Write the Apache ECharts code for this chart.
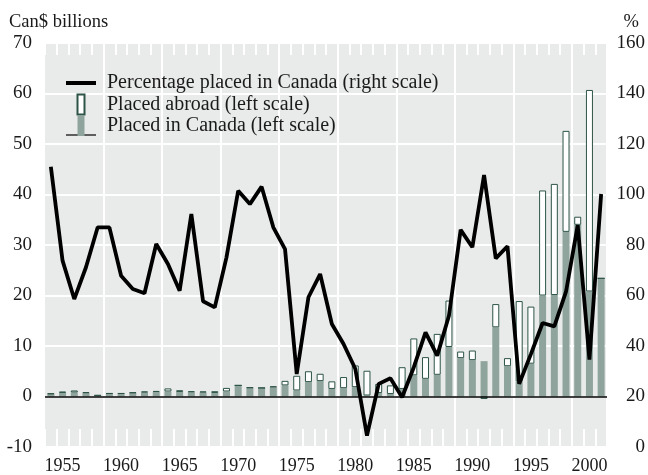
<!DOCTYPE html>
<html lang="en">
<head>
    <meta charset="UTF-8">
    <title>Placements</title>
    <script src="https://cdn.jsdelivr.net/npm/echarts@6/dist/echarts.min.js"></script>
    <style>
        * { margin: 0; padding: 0 }
        html, body { width: 100%; height: 100%; background: #fff; }
        #main { width: 648px; height: 475px; }
    </style>
</head>
<body>
<div id="main"></div>
<script type="text/javascript">
    // years along the bottom
    var years = [1954, 1955, 1956, 1957, 1958, 1959, 1960, 1961, 1962, 1963,
        1964, 1965, 1966, 1967, 1968, 1969, 1970, 1971, 1972, 1973,
        1974, 1975, 1976, 1977, 1978, 1979, 1980, 1981, 1982, 1983,
        1984, 1985, 1986, 1987, 1988, 1989, 1990, 1991, 1992, 1993,
        1994, 1995, 1996, 1997, 1998, 1999, 2000, 2001];

    // Can$ billions placed in Canada (left scale)
    var placedCanada = [0.5, 0.7, 0.8, 0.7, 0.2, 0.55, 0.55, 0.7, 0.8, 0.9,
        1.0, 0.9, 0.85, 0.8, 0.7, 1.0, 2.2, 1.7, 1.7, 1.85,
        2.2, 1.2, 2.85, 3.05, 1.5, 1.65, 1.85, 0.2, 0.7, 0.5,
        1.5, 4.2, 3.5, 4.3, 9.8, 7.6, 7.2, 7.0, 13.7, 6.0,
        3.0, 6.5, 20.0, 20.1, 32.6, 34.0, 20.8, 23.4];

    // Can$ billions placed abroad (left scale)
    var placedAbroad = [0.1, 0.3, 0.4, 0.15, 0.05, 0.1, 0.1, 0.1, 0.2, 0.2,
        0.6, 0.35, 0.2, 0.2, 0.35, 0.7, 0, 0.1, 0, 0.15,
        0.9, 2.9, 2.15, 1.45, 1.5, 2.2, 4.3, 4.9, 1.8, 1.7,
        4.3, 7.3, 4.3, 8.1, 9.2, 1.3, 1.9, -0.5, 4.6, 1.6,
        15.9, 11.3, 20.8, 22.0, 20.0, 1.6, 39.9, 0];

    // percentage placed in Canada (right scale)
    var pctCanada = [111, 73.8, 58.6, 71.2, 87.0, 87.0, 67.8, 62.6, 60.9, 80.4,
        72.5, 61.9, 92.3, 57.7, 55.3, 75.1, 101.5, 96.2, 103.1, 87.0,
        78.4, 28.9, 59.3, 68.5, 48.7, 40.8, 31.0, 4.5, 25.0, 27.2,
        19.7, 31.6, 45.4, 36.2, 52.0, 86.0, 79.1, 107.7, 74.7, 79.5,
        25.0, 36.8, 49.1, 47.8, 61.5, 87.9, 34.6, 100.2];

    var FONT = 'Liberation Serif';
    var TXT = '#1a1a1a';

    var myChart = echarts.init(document.getElementById('main'));

    var option = {
        animation: false,
        textStyle: {fontFamily: FONT},
        title: [
            {text: 'Can$ billions', left: 4, top: 8,
                textStyle: {fontFamily: FONT, fontSize: 18.5, fontWeight: 'normal', color: TXT}},
            {text: '%', right: 4, top: 8,
                textStyle: {fontFamily: FONT, fontSize: 18.5, fontWeight: 'normal', color: TXT}}
        ],
        grid: {
            left: 45, right: 41, top: 43, bottom: 27,
            show: true, backgroundColor: '#e8ebe9', borderWidth: 0
        },
        legend: {
            orient: 'vertical',
            left: 66, top: 73,
            padding: 0,
            itemWidth: 30, itemHeight: 20, itemGap: 0.5,
            textStyle: {fontFamily: FONT, fontSize: 20, lineHeight: 20, color: TXT,
                padding: [0, 0, 0, 6]},
            data: [
                {name: 'Percentage placed in Canada (right scale)', icon: 'path://M0,0H30V4H0Z'},
                {name: 'Placed abroad (left scale)', icon: 'path://M0,0H7V20H0Z'},
                {name: 'Placed in Canada (left scale)', icon: 'path://M0,0H7V20H0Z'}
            ]
        },
        graphic: [{
            type: 'line', shape: {x1: 66, y1: 135, x2: 96, y2: 135},
            style: {stroke: '#000', lineWidth: 1.2}
        }],
        xAxis: [{
            type: 'category',
            data: years,
            boundaryGap: true,
            axisLine: {show: false, onZero: false},
            axisTick: {show: true, inside: true, length: 18, interval: 0,
                lineStyle: {color: '#fff', width: 2}},
            splitLine: {show: true, interval: function (i) { return i % 5 === 0 && i > 0; },
                lineStyle: {color: '#fff', width: 2}},
            axisLabel: {
                interval: function (i, v) { return Number(v) % 5 === 0; },
                fontFamily: FONT, fontSize: 18, color: TXT, margin: 10
            }
        }, {
            type: 'category',
            position: 'top',
            data: years,
            boundaryGap: true,
            axisLine: {show: false, onZero: false},
            axisTick: {show: true, inside: true, length: 12, interval: 0,
                lineStyle: {color: '#fff', width: 2}},
            axisLabel: {show: false},
            splitLine: {show: false}
        }],
        yAxis: [{
            type: 'value',
            min: -10, max: 70, interval: 10,
            axisLine: {show: false},
            axisTick: {show: false},
            splitLine: {show: true, lineStyle: {color: '#fff', width: 2}},
            axisLabel: {fontFamily: FONT, fontSize: 19, color: TXT, margin: 13}
        }, {
            type: 'value',
            position: 'right',
            min: 0, max: 160, interval: 20,
            axisLine: {show: false},
            axisTick: {show: false},
            splitLine: {show: false},
            axisLabel: {fontFamily: FONT, fontSize: 19, color: TXT, align: 'right', margin: 38}
        }],
        series: [{
            name: 'Placed in Canada (left scale)',
            type: 'bar',
            stack: 'issues',
            barWidth: 7,
            itemStyle: {color: '#8fa49c'},
            data: placedCanada,
            markLine: {
                silent: true,
                symbol: 'none',
                label: {show: false},
                lineStyle: {color: '#000', width: 1.5, type: 'solid'},
                data: [{yAxis: 0}]
            }
        }, {
            name: 'Placed abroad (left scale)',
            type: 'bar',
            stack: 'issues',
            barWidth: 7,
            itemStyle: {color: '#ffffff', borderColor: '#2d5446', borderWidth: 1},
            data: placedAbroad
        }, {
            name: 'Percentage placed in Canada (right scale)',
            type: 'line',
            yAxisIndex: 1,
            symbol: 'none',
            z: 5,
            lineStyle: {color: '#000', width: 3.8},
            itemStyle: {color: '#000'},
            data: pctCanada
        }]
    };

    myChart.setOption(option);
</script>
</body>
</html>
